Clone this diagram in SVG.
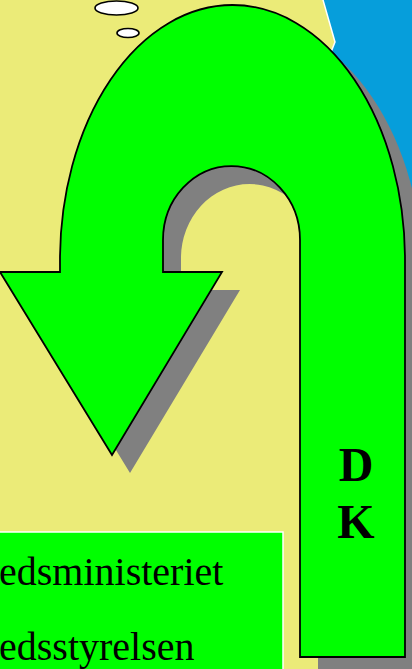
<svg xmlns="http://www.w3.org/2000/svg" width="412" height="669" viewBox="0 0 412 669">
<defs>
<style>
.bubble{fill:#ffffff;stroke:#000000;stroke-width:1.6}
.arrow{fill:#00ff00;stroke:#000000;stroke-width:1.8;stroke-linejoin:miter}
.shadow{fill:#808080}
.dk{font-family:"Liberation Serif","Times New Roman",serif;font-weight:bold;font-size:48px;fill:#000000}
.lbl{font-family:"Liberation Serif","Times New Roman",serif;font-size:40px;fill:#000000}
</style>
<path id="uarrow" d="M0,272 L112,455 L222,272 L163,272 L163,240 A68.5 74 0 0 1 300,240 L300,657 L405,657 L405,260 A172.5 255 0 0 0 60,260 L60,272 Z"/>
</defs>
<g id="background">
<rect x="0" y="0" width="412" height="669" fill="#069edb"/>
<polygon points="-5,-5 323,-5 323,0 335,42 320,80 320,680 -5,680" fill="#ebeb78" stroke="#ffffff" stroke-width="1.5"/>
</g>
<g id="bubbles">
<ellipse class="bubble" cx="116.5" cy="8" rx="21.5" ry="7"/>
<ellipse class="bubble" cx="128" cy="33" rx="11" ry="4.5"/>
</g>
<g id="u-arrow">
<use href="#uarrow" class="shadow" transform="translate(18,18)"/>
<use href="#uarrow" class="arrow"/>
<text class="dk" x="356" y="481" text-anchor="middle">D</text>
<text class="dk" x="356" y="538" text-anchor="middle">K</text>
</g>
<g id="label-box">
<rect x="-5" y="532" width="288" height="150" fill="#00ff00" stroke="#ffffff" stroke-width="1.5"/>
<text class="lbl" x="-1" y="585">edsministeriet</text>
<text class="lbl" x="-1" y="660">edsstyrelsen</text>
</g>
</svg>
